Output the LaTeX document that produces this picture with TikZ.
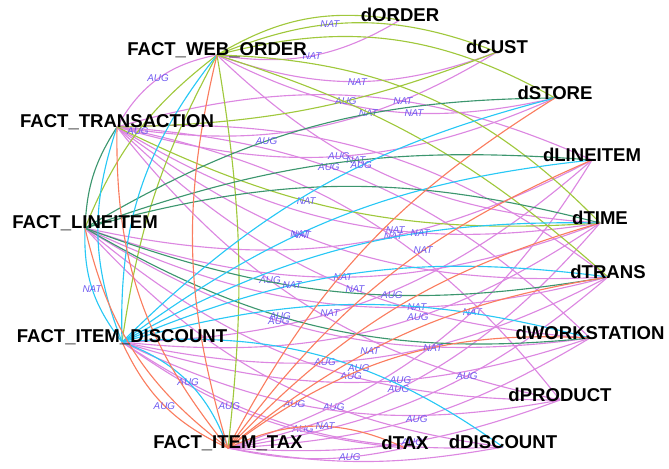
\documentclass[tikz,border=0pt]{standalone}
\usepackage{fontspec}
\setmainfont{Liberation Sans}
\definecolor{wocol}{RGB}{160,200,60}
\definecolor{trcol}{RGB}{220,135,225}
\definecolor{licol}{RGB}{60,150,110}
\definecolor{dicol}{RGB}{40,200,245}
\definecolor{tacol}{RGB}{250,125,95}
\definecolor{lblcol}{RGB}{110,90,240}
\begin{document}
\begin{tikzpicture}[x=0.025cm,y=0.025cm,
	edge/.style={line width=0.8pt},
	wo/.style={edge, draw=wocol},
	tr/.style={edge, draw=trcol},
	li/.style={edge, draw=licol},
	di/.style={edge, draw=dicol},
	ta/.style={edge, draw=tacol},
	dm/.style={edge, draw=trcol},
	lbl/.style={font=\fontsize{7}{8}\selectfont\itshape, text=lblcol, inner sep=0pt},
	tbl/.style={font=\fontsize{13.2}{15}\selectfont\bfseries, inner sep=0pt, yshift=1.3mm}]
	\useasboundingbox (0,0) rectangle (669,-468);

	% facts
	\coordinate (web)	at	(217,-55);
	\coordinate (trx)	at	(117,-127);
	\coordinate (lin)	at	(85,-228);
	\coordinate (idc)	at	(122,-342);
	\coordinate (itx)	at	(228,-448);

	% dimensions
	\coordinate (dord)	at	(400,-20);
	\coordinate (dcus)	at	(497,-52);
	\coordinate (dsto)	at	(555,-98);
	\coordinate (dlin)	at	(592,-160);
	\coordinate (dtim)	at	(600,-223);
	\coordinate (dtra)	at	(608,-277);
	\coordinate (dwks)	at	(590,-338);
	\coordinate (dprd)	at	(560,-400);
	\coordinate (ddis)	at	(503,-447);
	\coordinate (dtax)	at	(405,-448);

	% dimension -> fact
	\draw[dm] (dord) to[bend left=20] node[lbl]{NAT} (web);
	\draw[dm] (dcus) to[bend left=20] node[lbl]{NAT} (web);
	\draw[dm] (dsto) to[bend left=20] node[lbl, pos=0.4]{NAT} (web);
	\draw[dm] (dtim) to[bend left=20] node[lbl, pos=0.6]{NAT} (web);

	\draw[dm] (dcus) to[bend left=20] node[lbl, pos=0.35]{NAT} (trx);
	\draw[dm] (dsto) to[bend left=20] node[lbl]{AUG} (trx);
	\draw[dm] (dtim) to[bend left=20] node[lbl, pos=0.4]{NAT} (trx);
	\draw[dm] (dtra) to[bend left=20] node[lbl, pos=0.6]{NAT} (trx);
	\draw[dm] (dwks) to[bend left=20] node[lbl, pos=0.45]{NAT} (trx);
	\draw[dm] (dprd) to[bend left=20] node[lbl, pos=0.6]{AUG} (trx);

	\draw[dm] (dlin) to[bend left=20] node[lbl, pos=0.4]{NAT} (lin);
	\draw[dm] (dprd) to[bend left=20] node[lbl, pos=0.4]{AUG} (lin);
	\draw[dm] (dtim) to[bend left=20] node[lbl]{NAT} (lin);
	\draw[dm] (dtra) to[bend left=20] node[lbl, pos=0.35]{NAT} (lin);
	\draw[dm] (dwks) to[bend left=20] node[lbl, pos=0.6]{AUG} (lin);
	\draw[dm] (ddis) to[bend left=20] node[lbl, pos=0.35]{AUG} (lin);

	\draw[dm] (ddis) to[bend left=18] node[lbl]{AUG} (idc);
	\draw[dm] (dlin) to[bend left=20] node[lbl, pos=0.6]{NAT} (idc);
	\draw[dm] (dtim) to[bend left=20] node[lbl, pos=0.4]{AUG} (idc);
	\draw[dm] (dtra) to[bend left=20] node[lbl, pos=0.6]{AUG} (idc);
	\draw[dm] (dwks) to[bend left=18] node[lbl, pos=0.4]{AUG} (idc);
	\draw[dm] (dprd) to[bend left=18] node[lbl, pos=0.6]{AUG} (idc);
	\draw[dm] (dtax) to[bend left=15] node[lbl, pos=0.6]{AUG} (idc);

	\draw[dm] (dtax) to[bend left=12] node[lbl, pos=0.3]{AUG} (itx);
	\draw[dm] (dlin) to[bend left=20] node[lbl, pos=0.4]{NAT} (itx);
	\draw[dm] (dtim) to[bend left=18] node[lbl, pos=0.6]{AUG} (itx);
	\draw[dm] (dtra) to[bend left=16] node[lbl, pos=0.4]{AUG} (itx);
	\draw[dm] (dwks) to[bend left=14] node[lbl, pos=0.5]{AUG} (itx);
	\draw[dm] (dprd) to[bend left=12] node[lbl, pos=0.45]{AUG} (itx);
	\draw[dm] (ddis) to[bend left=10] (itx);

	% transaction fact
	\draw[tr] (web) to[bend right=25] node[lbl]{AUG} (trx);
	\draw[tr] (trx) to[bend left=20] (dtra);
	\draw[tr] (trx) to[bend left=20] node[lbl, pos=0.4]{AUG} (dwks);
	\draw[tr] (trx) to[bend left=20] node[lbl, pos=0.6]{NAT} (dlin);
	\draw[tr] (trx) to[bend left=20] (dprd);

	% web order fact
	\draw[wo] (web) to[bend left=20] (dord);
	\draw[wo] (web) to[bend left=22] node[lbl, pos=0.4]{NAT} (dcus);
	\draw[wo] (web) to[bend left=22] (dsto);
	\draw[wo] (web) to[bend left=22] (dtim);
	\draw[wo] (trx) to[bend right=10] node[lbl, pos=0.6]{AUG} (dcus);
	\draw[wo] (dtim) to[bend left=15] node[lbl, pos=0.6]{NAT} (trx);
	\draw[wo] (web) to[bend right=15] node[lbl]{AUG} (lin);
	\draw[wo] (web) to[bend right=10] (idc);
	\draw[wo] (web) to[bend left=8] (itx);
	\draw[wo] (web) to[bend left=12] (dtra);

	% lineitem fact
	\draw[li] (trx) to[bend right=15] (lin);
	\draw[li] (lin) to[bend left=15] node[lbl, pos=0.4]{AUG} (dsto);
	\draw[li] (lin) to[bend left=15] (dtim);
	\draw[li] (lin) to[bend right=15] node[lbl, pos=0.6]{AUG} (dtra);
	\draw[li] (lin) to[bend right=18] node[lbl, pos=0.4]{AUG} (dwks);
	\draw[li] (lin) to[bend left=12] (dlin);

	% item discount fact
	\draw[di] (idc) to[bend left=20] (web);
	\draw[di] (idc) to[bend left=20] (trx);
	\draw[di] (idc) to[bend left=20] node[lbl]{NAT} (lin);
	\draw[di] (idc) to[bend left=15] node[lbl, pos=0.6]{AUG} (dsto);
	\draw[di] (idc) to[bend left=15] node[lbl, pos=0.4]{NAT} (dlin);
	\draw[di] (idc) to[bend left=15] node[lbl, pos=0.65]{NAT} (dtim);
	\draw[di] (idc) to[bend left=15] node[lbl, pos=0.35]{NAT} (dtra);
	\draw[di] (idc) to[bend left=15] (dwks);
	\draw[di] (idc) to[bend left=20] node[lbl, pos=0.6]{AUG} (ddis);
	\draw[di] (idc) to[bend left=25] node[lbl]{AUG} (itx);

	% item tax fact
	\draw[ta] (itx) to[bend left=15] (web);
	\draw[ta] (itx) to[bend left=20] (trx);
	\draw[ta] (itx) to[bend left=20] (lin);
	\draw[ta] (itx) to[bend left=20] node[lbl]{AUG} (idc);
	\draw[ta] (itx) to[bend left=15] (dsto);
	\draw[ta] (itx) to[bend left=15] node[lbl, pos=0.6]{NAT} (dlin);
	\draw[ta] (itx) to[bend left=15] (dtim);
	\draw[ta] (itx) to[bend left=15] node[lbl, pos=0.4]{NAT} (dtra);
	\draw[ta] (itx) to[bend left=20] node[lbl, pos=0.6]{NAT} (dwks);
	\draw[ta] (itx) to[bend left=25] node[lbl, pos=0.55]{NAT} (dtax);

	% table names
	\node[tbl] (webl) at (web) {FACT\_WEB\_ORDER};
	\node[tbl] (trxl) at (trx) {FACT\_TRANSACTION};
	\node[tbl] (linl) at (lin) {FACT\_LINEITEM};
	\node[tbl] (idcl) at (idc) {FACT\_ITEM\_DISCOUNT};
	\node[tbl] (itxl) at (itx) {FACT\_ITEM\_TAX};
	\node[tbl] (dordl) at (dord) {dORDER};
	\node[tbl] (dcusl) at (dcus) {dCUST};
	\node[tbl] (dstol) at (dsto) {dSTORE};
	\node[tbl] (dlinl) at (dlin) {dLINEITEM};
	\node[tbl] (dtiml) at (dtim) {dTIME};
	\node[tbl] (dtral) at (dtra) {dTRANS};
	\node[tbl] (dwksl) at (dwks) {dWORKSTATION};
	\node[tbl] (dprdl) at (dprd) {dPRODUCT};
	\node[tbl] (ddisl) at (ddis) {dDISCOUNT};
	\node[tbl] (dtaxl) at (dtax) {dTAX};
\end{tikzpicture}
\end{document}
